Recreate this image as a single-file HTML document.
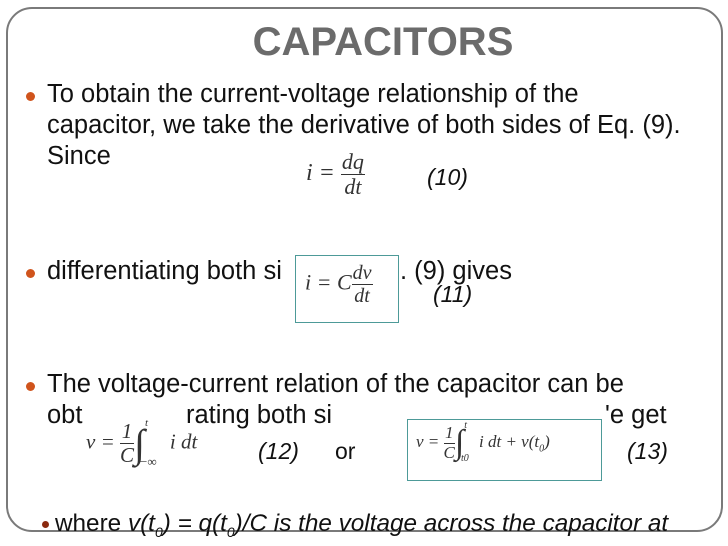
<!DOCTYPE html>
<html><head><meta charset="utf-8"><style>
body{margin:0;width:728px;height:546px;background:#fff;position:relative;overflow:hidden;font-family:"Liberation Sans",sans-serif;}
.frame{position:absolute;left:6px;top:7px;width:713px;height:521px;border:2px solid #7a7a7a;border-radius:26px;}
.t{position:absolute;font-size:25.5px;color:#111;white-space:nowrap;line-height:1;}
.b{position:absolute;width:9px;height:9px;border-radius:50%;background:#d0541c;}
.title{position:absolute;left:0;width:766px;text-align:center;top:20px;font-size:40px;font-weight:bold;color:#6b6b6b;}
.m{position:absolute;font-family:"Liberation Serif",serif;font-style:italic;color:#333;white-space:nowrap;background:#fff;}
.fr{display:inline-block;vertical-align:middle;text-align:center;line-height:1.1}
.fr span{display:block}
.fr .n{border-bottom:1px solid #333;padding:0 1px}
.box{position:absolute;border:1.5px solid #4d9a98;background:#fff;}
.i{font-style:italic}
</style></head><body>
<div class="frame"></div>
<div class="title">CAPACITORS</div>
<div class="b" style="left:26px;top:92px"></div>
<div class="t" style="left:47px;top:82px">To obtain the current-voltage relationship of the</div>
<div class="t" style="left:47px;top:113px">capacitor, we take the derivative of both sides of Eq. (9).</div>
<div class="t" style="left:47px;top:144px">Since</div>
<div class="m" style="left:306px;top:150px;font-size:24px"><span>i = </span><span class="fr" style="font-size:22px"><span class="n">dq</span><span>dt</span></span></div>
<div class="t i" style="left:427px;top:166px;font-size:23px">(10)</div>

<div class="b" style="left:26px;top:269px"></div>
<div class="t" style="left:47px;top:259px">differentiating both si</div>
<div class="t" style="left:400px;top:259px">. (9) gives</div>
<div class="t i" style="left:433px;top:283px;font-size:23px">(11)</div>
<div class="box" style="left:295px;top:255px;width:102px;height:66px"></div>
<div class="m" style="left:305px;top:262px;font-size:22px;background:none"><span>i = C</span><span class="fr" style="font-size:20px"><span class="n">dv</span><span>dt</span></span></div>

<div class="b" style="left:26px;top:382px"></div>
<div class="t" style="left:47px;top:372px">The voltage-current relation of the capacitor can be</div>
<div class="t" style="left:47px;top:403px">obt</div>
<div class="t" style="left:186px;top:403px">rating both si</div>
<div class="t" style="left:605px;top:403px">'e get</div>
<div class="m" style="left:86px;top:420px;font-size:21px;height:58px;background:none"><span>v = </span><span class="fr" style="font-size:21px"><span class="n">1</span><span>C</span></span><span style="font-size:40px;font-style:normal;vertical-align:middle">∫</span><sup style="font-size:11px;position:relative;top:-14px">t</sup><sub style="font-size:13px;position:relative;top:12px;left:-8px;font-style:normal">−∞</sub> i dt</div>
<div class="t i" style="left:258px;top:440px;font-size:23px">(12)</div>
<div class="t" style="left:335px;top:440px;font-size:23px">or</div>
<div class="box" style="left:407px;top:419px;width:193px;height:60px"></div>
<div class="m" style="left:416px;top:424px;font-size:17px;background:none"><span>v = </span><span class="fr" style="font-size:17px"><span class="n">1</span><span>C</span></span><span style="font-size:34px;font-style:normal;vertical-align:middle">∫</span><sup style="font-size:10px;position:relative;top:-12px">t</sup><sub style="font-size:10px;position:relative;top:10px;left:-6px">t0</sub> i dt + v(t<sub style="font-size:10px">0</sub>)</div>
<div class="t i" style="left:627px;top:440px;font-size:23px">(13)</div>

<div class="b" style="left:42px;top:521px;width:7px;height:7px;background:#8b2a10"></div>
<div class="t" style="left:55px;top:512px;font-size:24.3px">where <i>v(t<sub style="font-size:14px">0</sub>) = q(t<sub style="font-size:14px">0</sub>)/C is the voltage across the capacitor at</i></div>
</body></html>
